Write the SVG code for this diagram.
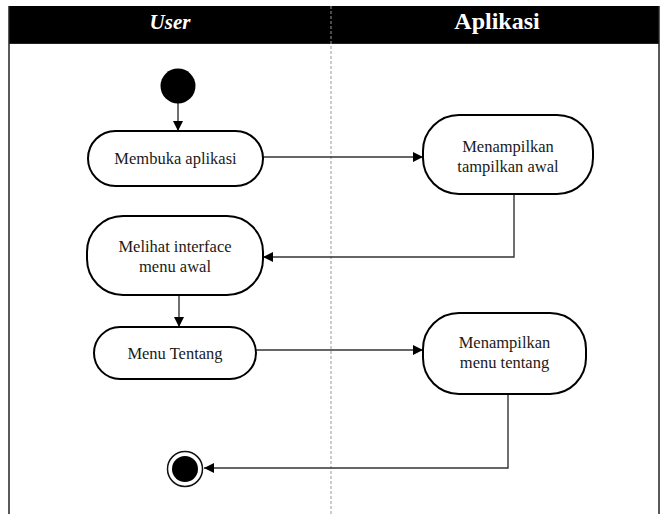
<svg xmlns="http://www.w3.org/2000/svg" width="661" height="514" viewBox="0 0 661 514">
  <style>
    .lane-title { font-family: "Liberation Serif", serif; font-weight: bold; fill: #fff; text-anchor: middle; }
    .action rect { fill: #fff; stroke: #000; stroke-width: 2; }
    .action text { font-family: "Liberation Serif", serif; font-size: 16.5px; fill: #1a1a1a; text-anchor: middle; }
    .flow { fill: none; stroke: #333; stroke-width: 1.4; marker-end: url(#arrow); }
  </style>
  <defs>
    <marker id="arrow" viewBox="0 0 10 10" refX="10" refY="5" markerWidth="10" markerHeight="10" markerUnits="userSpaceOnUse" orient="auto">
      <path d="M0,0 L10,5 L0,10 z" fill="#000"/>
    </marker>
  </defs>

  <rect x="0" y="0" width="661" height="514" fill="#fff"/>

  <!-- swimlane frame -->
  <g id="lanes">
    <rect x="9" y="6" width="650" height="37" fill="#000"/>
    <line x1="9" y1="6" x2="9" y2="514" stroke="#222" stroke-width="1.5"/>
    <line x1="659" y1="6" x2="659" y2="514" stroke="#222" stroke-width="1.5"/>
    <line x1="9" y1="43.5" x2="659" y2="43.5" stroke="#222" stroke-width="1"/>
    <line x1="331" y1="6" x2="331" y2="514" stroke="#999" stroke-width="1" stroke-dasharray="3,2"/>
    <text class="lane-title" x="170" y="29" font-size="21" font-style="italic">User</text>
    <text class="lane-title" x="497" y="29" font-size="24">Aplikasi</text>
  </g>

  <!-- connectors -->
  <g id="connectors">
    <line class="flow" x1="178" y1="103" x2="178" y2="131"/>
    <line class="flow" x1="263" y1="157" x2="423" y2="157"/>
    <polyline class="flow" points="514,194 514,257 263,257"/>
    <line class="flow" x1="179" y1="295" x2="179" y2="327"/>
    <line class="flow" x1="256" y1="350" x2="423" y2="350"/>
    <polyline class="flow" points="508,394 508,468 204,468"/>
  </g>

  <g id="start">
    <circle cx="178" cy="86" r="17.5" fill="#000"/>
  </g>

  <g id="membuka-aplikasi" class="action">
    <rect x="88" y="131" width="175" height="55" rx="27.5"/>
    <text x="175.5" y="164">Membuka aplikasi</text>
  </g>

  <g id="menampilkan-tampilkan-awal" class="action">
    <rect x="423" y="115" width="170" height="79" rx="36"/>
    <text x="508" y="152">Menampilkan</text>
    <text x="508" y="172">tampilkan awal</text>
  </g>

  <g id="melihat-interface" class="action">
    <rect x="87" y="216" width="176" height="79" rx="36"/>
    <text x="175" y="252">Melihat interface</text>
    <text x="175" y="272">menu awal</text>
  </g>

  <g id="menu-tentang" class="action">
    <rect x="94" y="327" width="162" height="52" rx="26"/>
    <text x="175" y="359">Menu Tentang</text>
  </g>

  <g id="menampilkan-menu-tentang" class="action">
    <rect x="423" y="313" width="163" height="81" rx="36"/>
    <text x="504.5" y="348">Menampilkan</text>
    <text x="504.5" y="368">menu tentang</text>
  </g>

  <g id="end">
    <circle cx="185" cy="469" r="17.5" fill="#fff" stroke="#111" stroke-width="1.5"/>
    <circle cx="185" cy="469" r="13" fill="#000"/>
  </g>
</svg>
